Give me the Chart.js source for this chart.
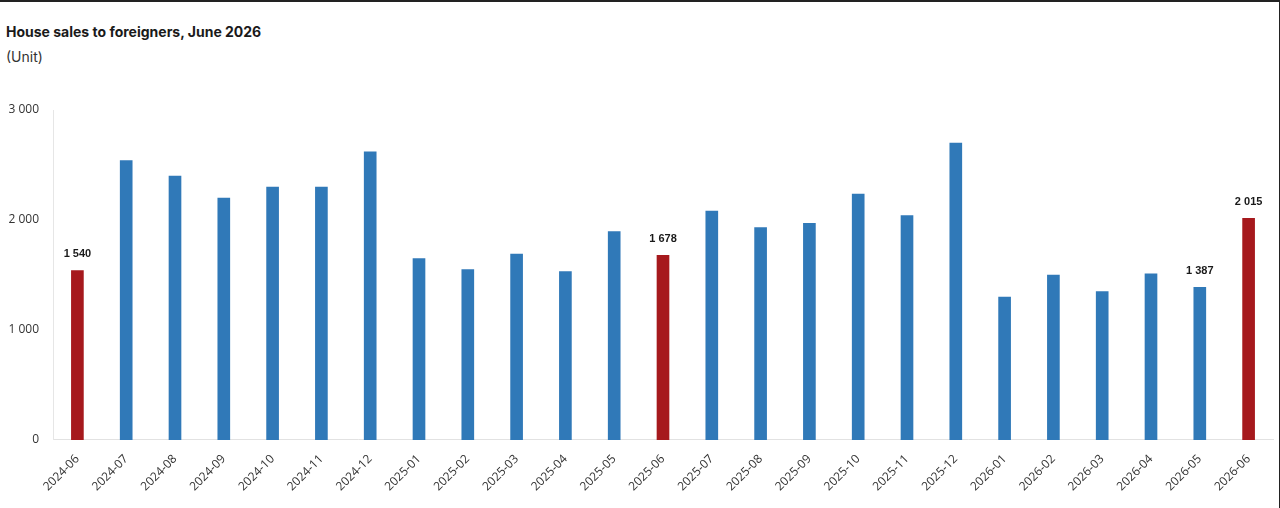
<!DOCTYPE html>
<html>
<head>
<meta charset="utf-8">
<script src="https://cdn.jsdelivr.net/npm/chart.js@4"></script>
<style>
  html, body { margin: 0; padding: 0; }
  body { background: #222; width: 1280px; height: 508px; overflow: hidden; }
  .panel { position: absolute; top: 2px; left: 0; width: 1279px; height: 506px; background: #fff; }
  .title { position: absolute; left: 6px; top: 23px; font: bold 14px "Inter", "Open Sans", sans-serif; color: #1a1a1a; }
  .unit { position: absolute; left: 6px; top: 48px; font: 14px "Inter", "Open Sans", sans-serif; color: #333; }
  canvas { position: absolute; top: 0; left: 0; }
</style>
</head>
<body>
<div class="panel"></div>
<div class="title">House sales to foreigners, June 2026</div>
<div class="unit">(Unit)</div>
<canvas id="chart" width="1280" height="508"></canvas>
<script>
// months shown on the x axis
const months = [
  '2024-06', '2024-07', '2024-08', '2024-09', '2024-10', '2024-11', '2024-12',
  '2025-01', '2025-02', '2025-03', '2025-04', '2025-05', '2025-06',
  '2025-07', '2025-08', '2025-09', '2025-10', '2025-11', '2025-12',
  '2026-01', '2026-02', '2026-03', '2026-04', '2026-05', '2026-06'
];
// units sold (labelled ones are exact, the rest)
const sales = [
  1540, 2540, 2400, 2200, 2300, 2300, 2620,
  1650, 1550, 1690, 1530, 1895, 1678,
  2080, 1930, 1970, 2235, 2040, 2700,
  1300, 1500, 1350, 1510, 1387, 2015
];
// months drawn in red
const highlight = ['2024-06', '2025-06', '2026-06'];
// months with a value printed above the bar
const labelled = ['2024-06', '2025-06', '2026-05', '2026-06'];
const yTicks = [0, 1000, 2000, 3000];

const blue = '#3079b8';
const red = '#a6191d';

const fmt = v => String(v).replace(/\B(?=(\d{3})+(?!\d))/g, ' ');

const valueLabels = {
  id: 'valueLabels',
  afterDatasetsDraw(chart) {
    const ctx = chart.ctx;
    const meta = chart.getDatasetMeta(0);
    ctx.save();
    ctx.font = 'bold 11px "Liberation Sans", Arial, sans-serif';
    ctx.fillStyle = '#1a1a1a';
    ctx.textAlign = 'center';
    ctx.textBaseline = 'bottom';
    meta.data.forEach((bar, i) => {
      if (!labelled.includes(months[i])) return;
      ctx.fillText(fmt(sales[i]), bar.x, bar.y - 11);
    });
    ctx.restore();
  }
};

new Chart(document.getElementById('chart'), {
  type: 'bar',
  data: {
    labels: months,
    datasets: [{
      label: 'Sales',
      data: sales,
      backgroundColor: months.map(m => highlight.includes(m) ? red : blue),
      barThickness: 12,
    }],
  },
  options: {
    responsive: false,
    animation: false,
    layout: {
      padding: { top: 110, left: 0, right: 7, bottom: 2 },
    },
    plugins: {
      legend: { display: false },
      tooltip: { enabled: false },
    },
    scales: {
      x: {
        offset: true,
        grid: { display: false, drawTicks: false },
        border: { display: true, color: '#e2e2e2', width: 1 },
        ticks: {
          autoSkip: false,
          maxRotation: 45,
          minRotation: 45,
          padding: 12,
          color: '#333',
          font: { family: '"Open Sans", sans-serif', size: 12 },
        },
      },
      y: {
        min: 0,
        max: 3000,
        afterBuildTicks: axis => { axis.ticks = yTicks.map(v => ({ value: v })); },
        afterFit: axis => { axis.width = 53; },
        grid: { display: false, drawTicks: false },
        border: { display: true, color: '#e6e6e6', width: 1 },
        ticks: {
          padding: 14,
          color: '#333',
          font: { family: '"Open Sans", sans-serif', size: 12 },
          callback: v => fmt(v),
        },
      },
    },
  },
  plugins: [valueLabels],
});
</script>
</body>
</html>
